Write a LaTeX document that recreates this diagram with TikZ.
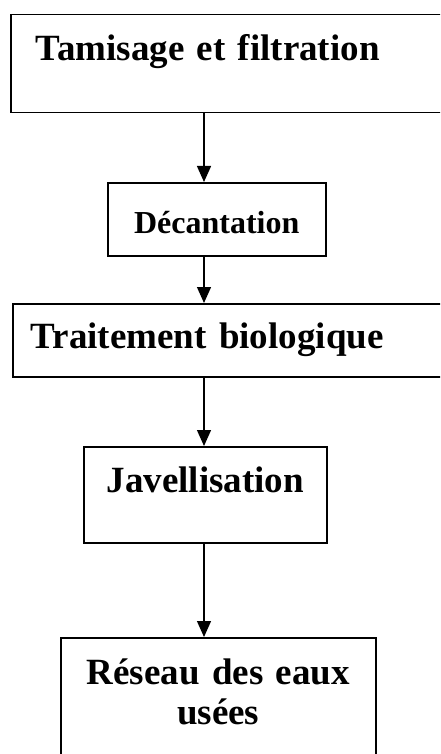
\documentclass[tikz,border=0pt]{standalone}
\usepackage{fontspec}
\setmainfont{Liberation Serif}
\usepackage{tikz}
\usetikzlibrary{arrows.meta}
\usetikzlibrary{positioning}

\begin{document}
\begin{tikzpicture}[
    x=1pt, y=-1pt,
    etape/.style={draw, line width=1.5pt, inner sep=0pt, anchor=north west,
      font=\bfseries\fontsize{37}{40}\selectfont},
    petite/.style={etape, font=\bfseries\fontsize{32}{36}\selectfont},
    fleche/.style={line width=1.3pt, -{Triangle[width=14pt,length=16pt]}},
  ]
  \path[use as bounding box, clip] (0,0) rectangle (440,754);
  \coordinate (axe) at (204,0);
  \node[etape, inner xsep=25pt, text width=390pt, align=left,
    text height=46pt, text depth=52pt] (tam) at (10,14) {Tamisage et filtration};
  \node[petite, text width=218pt, align=center,
    text height=51pt, text depth=22pt] (dec) at (107,182) {Décantation};
  \node[etape, inner xsep=18pt, text width=420pt, align=left,
    text height=45pt, text depth=28pt] (bio) at (12,303) {Traitement biologique};
  \node[etape, text width=243pt, align=center,
    text height=46pt, text depth=50pt] (jav) at (83,446) {Javellisation};
  \node[etape, text width=315pt, align=center,
    text height=47pt, text depth=116pt] (res) at (60,637) {Réseau des eaux\\usées};

  \draw[fleche] (tam.south -| axe) -- (dec.north -| axe);
  \draw[fleche] (dec.south -| axe) -- (bio.north -| axe);
  \draw[fleche] (bio.south -| axe) -- (jav.north -| axe);
  \draw[fleche] (jav.south -| axe) -- (res.north -| axe);
\end{tikzpicture}
\end{document}
